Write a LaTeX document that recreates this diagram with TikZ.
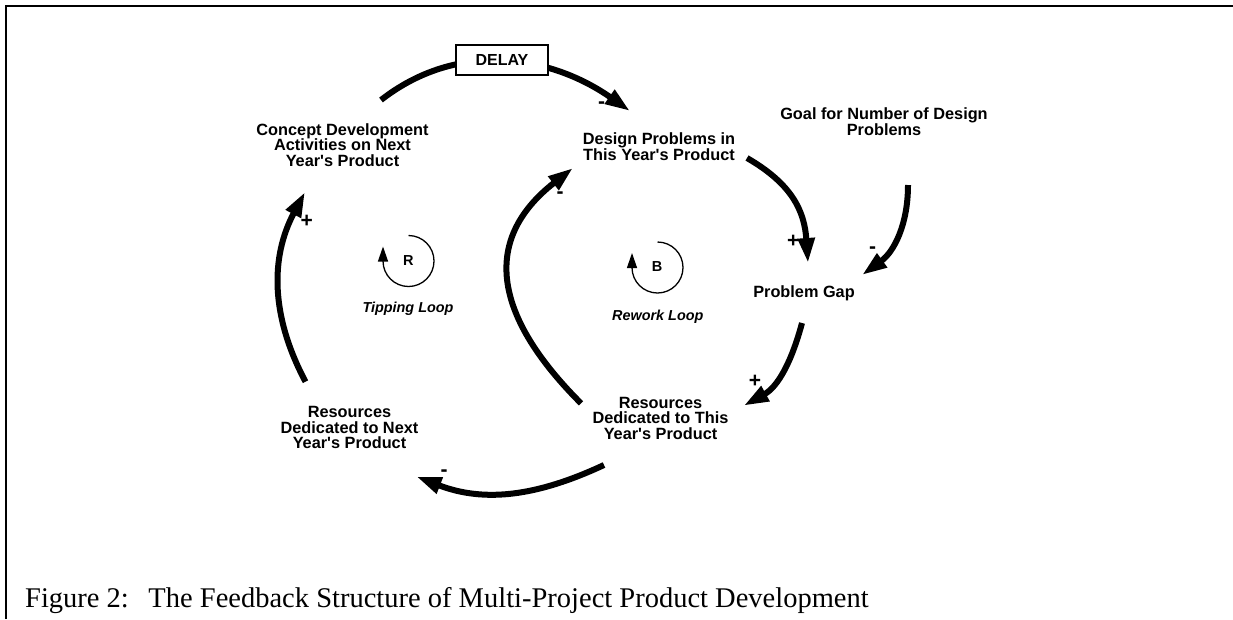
\documentclass[tikz,border=0pt]{standalone}
\usepackage{fontspec}
\setmainfont{Liberation Serif}
\setsansfont{Liberation Sans}[Ligatures=TeXOff]
\usetikzlibrary{arrows.meta}
\begin{document}
\begin{tikzpicture}[x=1pt,y=1pt,
  lbl/.style={font=\sffamily\bfseries\fontsize{16.3}{15.6}\selectfont, align=center, inner sep=0pt},
  link/.style={line width=6pt, -{Triangle[length=25pt,width=16pt]}},
  sgn/.style={font=\sffamily\bfseries\fontsize{21}{21}\selectfont, inner sep=0pt},
  loopsym/.style={line width=1.3pt, -{Triangle[length=15pt,width=10pt]}},
  looplet/.style={font=\sffamily\bfseries\fontsize{14.5}{14.5}\selectfont, inner sep=0pt, anchor=base},
  looplbl/.style={font=\sffamily\bfseries\itshape\fontsize{14.4}{14.4}\selectfont, inner sep=0pt, anchor=base},
  framel/.style={line width=2pt},
  delaybox/.style={draw, line width=1.3pt, fill=white, minimum width=92pt, minimum height=30pt, inner sep=0pt,
    font=\sffamily\bfseries\fontsize{16}{16}\selectfont}
]
\useasboundingbox (0,0) rectangle (1233,-619);
% frame
\coordinate (fb) at (6,-619);
\coordinate (fc) at (6,-6);
\coordinate (fr) at (1233,-6);
\draw[framel] (fb) -- (fc) -- (fr);

% variables
\node[lbl] (concept) at (342.5,-144.8) {Concept Development\\Activities on Next\\Year's Product};
\node[lbl] (design) at (659,-146.8) {Design Problems in\\This Year's Product};
\node[lbl] (goal) at (884,-121.8) {Goal for Number of Design\\Problems};
\node[lbl, anchor=base] (gap) at (804,-297) {Problem Gap};
\node[lbl] (resthis) at (660.5,-418.3) {Resources\\Dedicated to This\\Year's Product};
\node[lbl] (resnext) at (349.5,-427.5) {Resources\\Dedicated to Next\\Year's Product};

% connector end points
\coordinate (c1s) at (381,-100);   \coordinate (c1e) at (630,-111);
\coordinate (c2s) at (747,-158);   \coordinate (c2e) at (808,-263);
\coordinate (c3s) at (908,-185);   \coordinate (c3e) at (862,-275);
\coordinate (c4s) at (802,-323);   \coordinate (c4e) at (743.7,-405.7);
\coordinate (c5s) at (604,-465);   \coordinate (c5e) at (416.5,-476.7);
\coordinate (c6s) at (305.5,-381.7); \coordinate (c6e) at (305,-192);
\coordinate (c7s) at (581,-403.3); \coordinate (c7e) at (573,-168);

\draw[link] (c1s) to[out=38,in=145] (c1e);
\draw[link] (c2s) to[out=-30,in=94,looseness=1.1] (c2e);
\draw[link] (c3s) to[out=-90,in=36] (c3e);
\draw[link] (c4s) to[out=-105,in=29] (c4e);
\draw[link] (c5s) to[out=205,in=-21] (c5e);
\draw[link] (c6s) to[out=118,in=-118] (c6e);
\draw[link] (c7s) to[out=135,in=-142,looseness=1.3] (c7e);

\node[delaybox] (delay) at (502,-60) {DELAY};

% polarity signs
\node[sgn] (p1) at (601.7,-105) {-};
\node[sgn] (p2) at (793.3,-241.7) {+};
\node[sgn] (p3) at (872.7,-250) {-};
\node[sgn] (p4) at (755,-381.7) {+};
\node[sgn] (p5) at (444,-472.7) {-};
\node[sgn] (p6) at (306.7,-221.7) {+};
\node[sgn] (p7) at (560,-195) {-};

% loop symbols
\coordinate (rc) at (408.5,-261);
\draw[loopsym] (rc) ++(0,25.5) arc[start angle=90, end angle=-180, radius=25.5] -- ++(0,14.5);
\node[looplet] (rlet) at (408.3,-265) {R};
\node[looplbl] (rlbl) at (408,-312.7) {Tipping Loop};

\coordinate (bc) at (657.5,-267.5);
\draw[loopsym] (bc) ++(0,25.5) arc[start angle=90, end angle=-180, radius=25.5] -- ++(0,14.5);
\node[looplet] (blet) at (657,-271.7) {B};
\node[looplbl] (blbl) at (657.8,-320) {Rework Loop};

% caption
\node[anchor=base west, inner sep=0pt, font=\rmfamily\fontsize{28.5}{30}\selectfont] (caption) at (25,-607.7)
  {Figure 2:\hspace{19.6pt}The Feedback Structure of Multi-Project Product Development};
\end{tikzpicture}
\end{document}
